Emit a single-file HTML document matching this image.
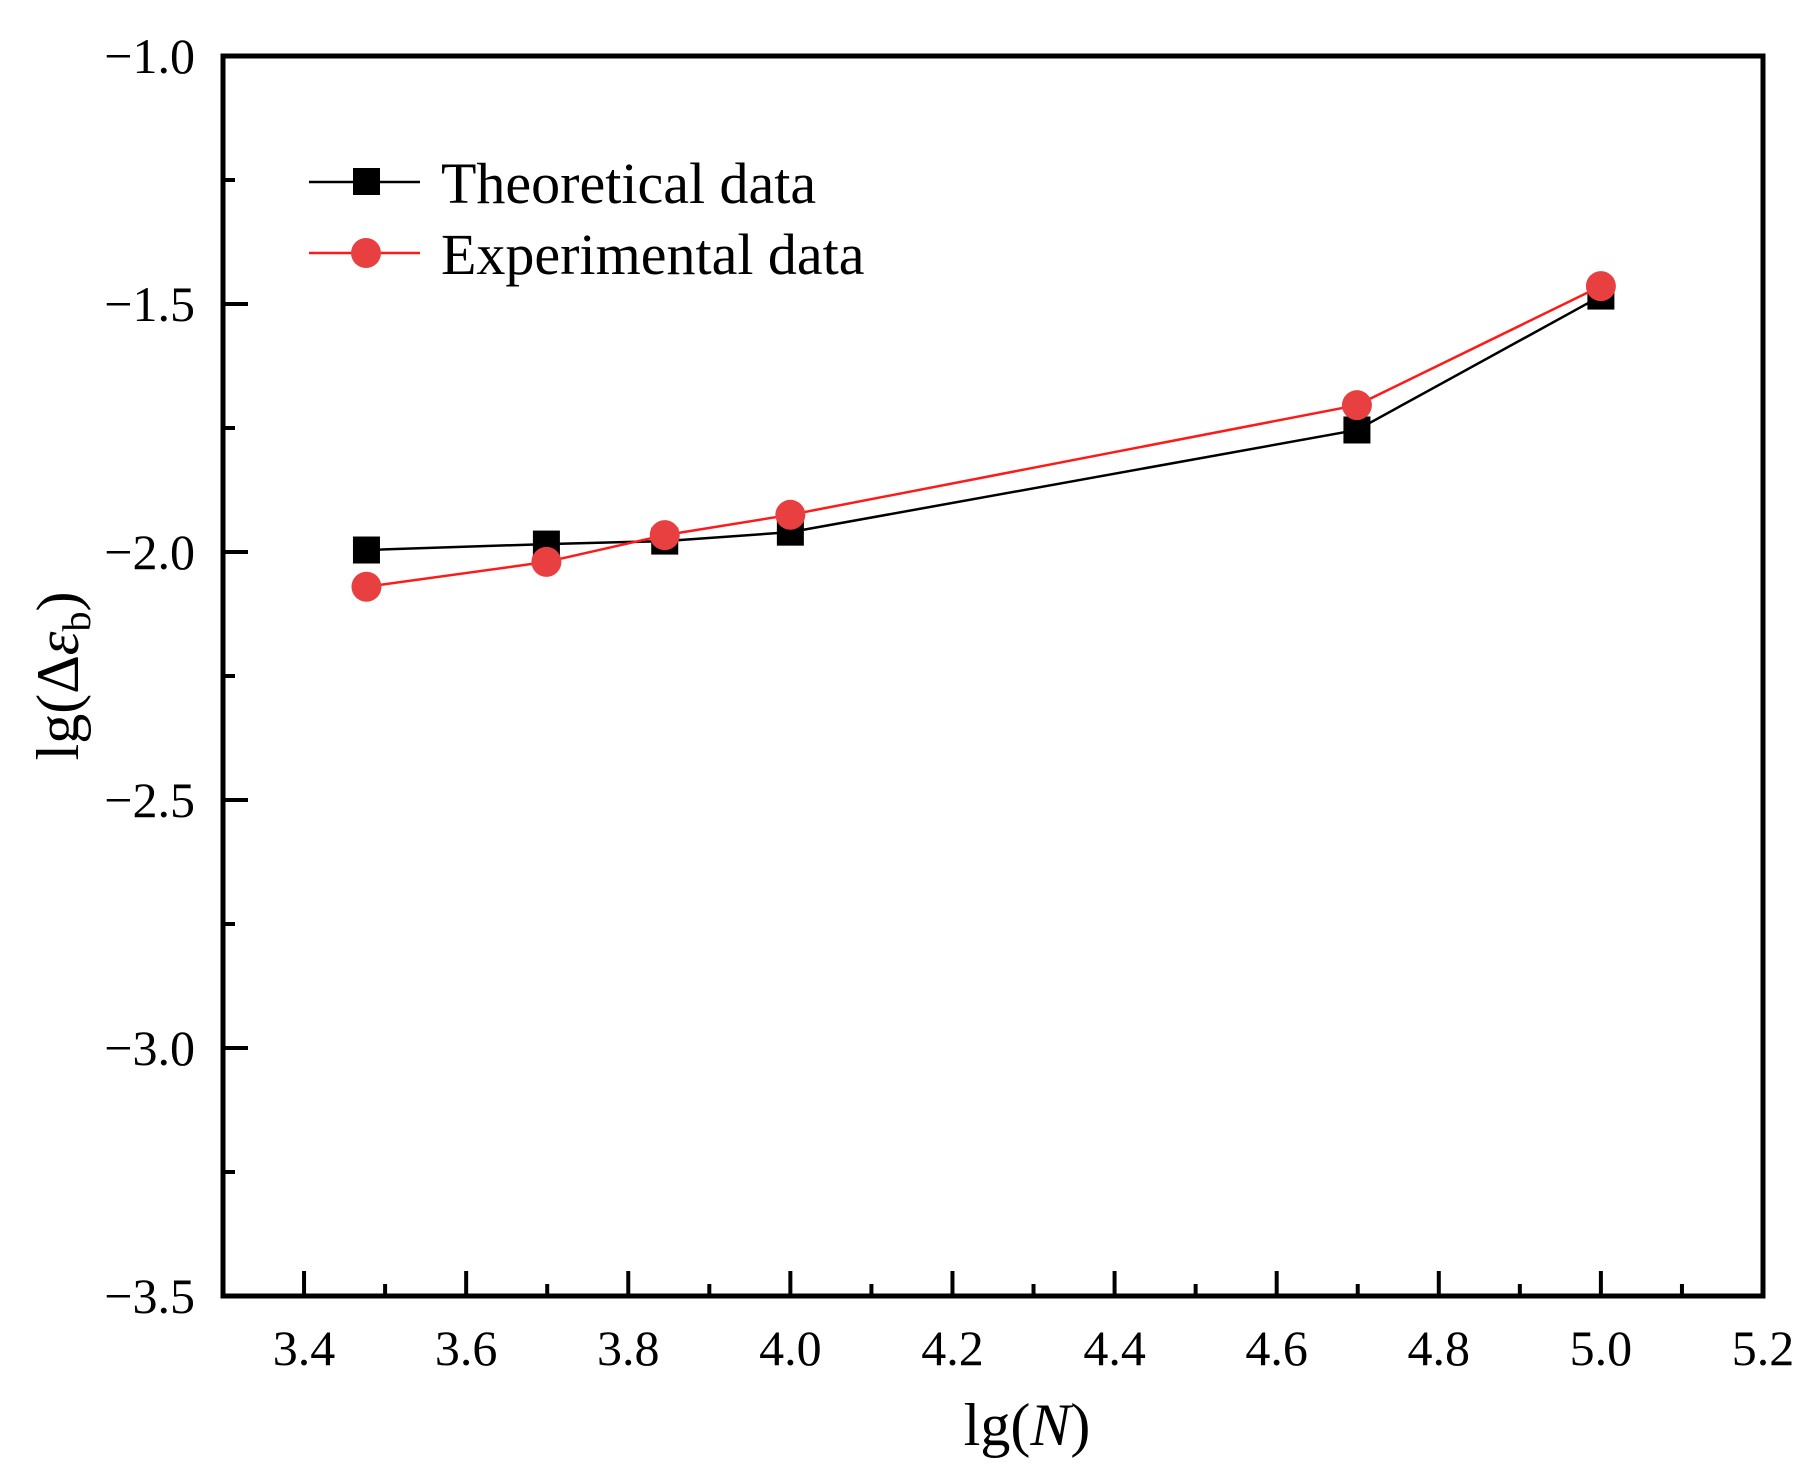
<!DOCTYPE html>
<html><head><meta charset="utf-8"><style>
html,body{margin:0;padding:0;background:#fff;}
svg{display:block;font-family:"Liberation Serif",serif;}
</style></head><body>
<svg id="chart" width="1819" height="1484" viewBox="0 0 1819 1484">
<g id="axes"></g>
<g id="series"></g>
<g id="legend">
  <line x1="309" y1="182" x2="420" y2="182" stroke="#000" stroke-width="2.5"/>
  <rect x="353" y="168" width="27" height="27" fill="#000"/>
  <text x="441" y="203" font-size="58">Theoretical data</text>
  <line x1="309" y1="253" x2="420" y2="253" stroke="#ff1a1a" stroke-width="2.5"/>
  <circle cx="366" cy="253" r="15" fill="#e84040"/>
  <text x="441" y="274" font-size="58">Experimental data</text>
</g>
<text x="1027" y="1445" font-size="60" text-anchor="middle">lg(<tspan font-style="italic">N</tspan>)</text>
<text transform="translate(78,676) rotate(-90)" font-size="60" text-anchor="middle">lg(Δ<tspan font-style="italic">ε</tspan><tspan font-size="40" dy="12">b</tspan><tspan dy="-12">)</tspan></text>
</svg>
<script>
const xCats = [3.477, 3.699, 3.845, 4.0, 4.699, 5.0];
const theoretical = [-1.996, -1.984, -1.978, -1.96, -1.754, -1.484];
const experimental = [-2.07, -2.02, -1.966, -1.925, -1.704, -1.464];
const xTicks = ["3.4","3.6","3.8","4.0","4.2","4.4","4.6","4.8","5.0","5.2"];
const yTicks = ["-1.0","-1.5","-2.0","-2.5","-3.0","-3.5"];

const L=223,R=1763,T=56,B=1296, X0=3.3,X1=5.2,Y0=-3.5,Y1=-1.0;
const sx=v=>L+(v-X0)/(X1-X0)*(R-L);
const sy=v=>B-(v-Y0)/(Y1-Y0)*(B-T);
const NS="http://www.w3.org/2000/svg";
function mk(tag,attrs,parent){const e=document.createElementNS(NS,tag);for(const k in attrs)e.setAttribute(k,attrs[k]);parent.appendChild(e);return e;}
const axes=document.getElementById('axes'), ser=document.getElementById('series');

let f=mk('rect',{x:L,y:T,width:R-L,height:B-T,fill:'none',stroke:'#000','stroke-width':5},axes);



xTicks.forEach(t=>{const v=parseFloat(t),x=sx(v);
  let tk=mk('line',{x1:x,y1:B,x2:x,y2:B-25,stroke:'#000','stroke-width':4},axes);
  
  
  let m=sx(v+0.1); if(v+0.1<X1){let mt=mk('line',{x1:m,y1:B,x2:m,y2:B-12,stroke:'#000','stroke-width':4},axes);
    
    }
  let lb=mk('text',{x:x,y:1365,'font-size':50,'text-anchor':'middle'},axes);lb.textContent=t;
  
  
});
yTicks.forEach(t=>{const v=parseFloat(t),y=sy(v);
  let tk=mk('line',{x1:L,y1:y,x2:L+25,y2:y,stroke:'#000','stroke-width':4},axes);
  
  
  if(v+0.25<Y1){let m=sy(v+0.25);let mt=mk('line',{x1:L,y1:m,x2:L+12,y2:m,stroke:'#000','stroke-width':4},axes);
    
    }
  let lb=mk('text',{x:195,y:y+17,'font-size':50,'text-anchor':'end'},axes);lb.textContent=t.replace('-','\u2212');
  
  
});

let p1=mk('polyline',{points:xCats.map((x,i)=>sx(x)+','+sy(theoretical[i])).join(' '),fill:'none',stroke:'#000','stroke-width':2.5},ser);


xCats.forEach((x,i)=>{let r=mk('rect',{x:sx(x)-13.5,y:sy(theoretical[i])-13.5,width:27,height:27,fill:'#000'},ser);
  
  });
let p2=mk('polyline',{points:xCats.map((x,i)=>sx(x)+','+sy(experimental[i])).join(' '),fill:'none',stroke:'#ff1a1a','stroke-width':2.5},ser);


xCats.forEach((x,i)=>{let c=mk('circle',{cx:sx(x),cy:sy(experimental[i]),r:15,fill:'#e84040'},ser);
  
  });
</script>
</body></html>
